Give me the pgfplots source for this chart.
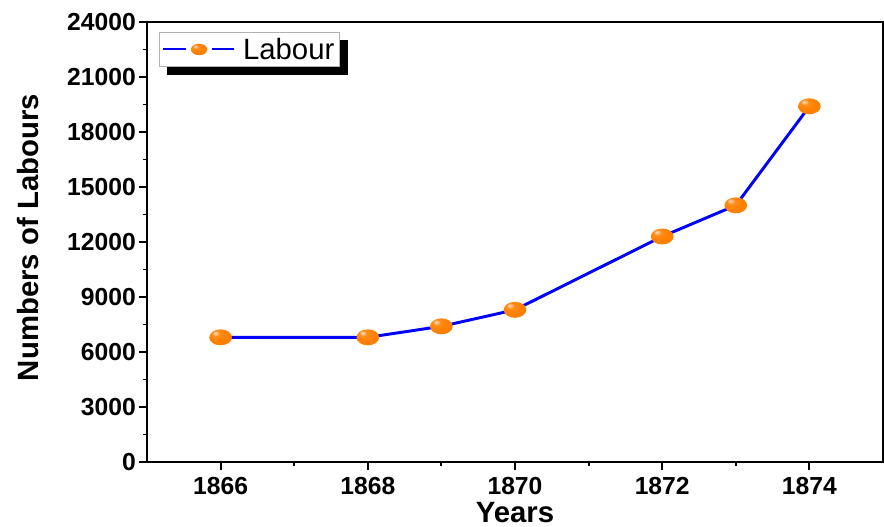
\documentclass[border=0pt]{standalone}
\usepackage{fontspec}
\setmainfont{Liberation Sans}
\usepackage{pgfplots}
\pgfplotsset{compat=1.18}
\usetikzlibrary{backgrounds}
\definecolor{myorange}{RGB}{255,128,0}
\pgfdeclareradialshading{oball}{\pgfpoint{-12bp}{14bp}}{color(0bp)=(white!75!myorange); color(9bp)=(myorange!90!white); color(22bp)=(myorange); color(50bp)=(myorange); color(75bp)=(myorange!85!red)}
\pgfdeclareplotmark{oball}{\pgfpathellipse{\pgfpointorigin}{\pgfqpoint{8.5pt}{0pt}}{\pgfqpoint{0pt}{6pt}}\pgfshadepath{oball}{0}\pgfusepath{}}
\begin{document}
\begin{tikzpicture}
\begin{axis}[
  at={(0,0)}, anchor=south west,
  scale only axis, width=552pt, height=330pt,
  xmin=1865, xmax=1875, ymin=0, ymax=24000,
  xtick={1866,1868,1870,1872,1874}, minor xtick={1867,1869,1871,1873},
  ytick={0,3000,...,24000}, minor ytick={1500,4500,...,22500},
  tick pos=left, tick align=outside,
  major tick length=6pt, minor tick length=3pt,
  every tick/.style={line width=1.4pt, black},
  axis line style={line width=1.3pt},
  scaled ticks=false,
  /pgf/number format/.cd, set thousands separator={}, assume math mode=true, /pgfplots/.cd,
  ticklabel style={font=\bfseries\fontsize{18.5}{20}\selectfont},
  xticklabel style={anchor=north, inner sep=0pt, yshift=-5.25pt},
  yticklabel style={anchor=east, inner sep=0pt, xshift=-2.25pt},
  xlabel={Years},
  xlabel style={at={(axis description cs:0.5,0)}, anchor=north, inner sep=0pt, yshift=-30pt, font=\bfseries\fontsize{22}{24}\selectfont},
  ylabel={Numbers of Labours},
  ylabel style={at={(axis description cs:-0.1617,0.51)}, anchor=center, inner sep=0pt, font=\bfseries\fontsize{22}{24}\selectfont},
  legend style={name=leg, at={(axis description cs:0.0163,0.977)}, anchor=north west, draw=gray!60, line width=0.6pt, fill=white, font=\fontsize{22}{24}\selectfont, inner xsep=2pt, inner ysep=2pt, column sep=4pt},
  legend cell align=left,
  legend image code/.code={
    \path[draw=blue, color=blue, line width=1.5pt] (0pt,0pt) -- (17.25pt,0pt) (36.75pt,0pt) -- (53.25pt,0pt);
    \path plot[mark=oball, mark options={scale=0.72}] coordinates {(27pt,0pt)};
  },
]
\addplot[blue, line width=2.2pt, mark=oball, mark options={solid}] coordinates {(1866,6800)(1868,6800)(1869,7400)(1870,8300)(1872,12300)(1873,14000)(1874,19400)};
\addlegendentry{Labour}
\end{axis}
\begin{scope}[on background layer]
\fill[black] ([xshift=6pt,yshift=-6pt]leg.south west) rectangle ([xshift=6pt,yshift=-6pt]leg.north east);
\end{scope}
\pgfresetboundingbox
\path[use as bounding box] (-110.25pt,-48.75pt) rectangle (552.75pt,346.5pt);
\end{tikzpicture}
\end{document}
